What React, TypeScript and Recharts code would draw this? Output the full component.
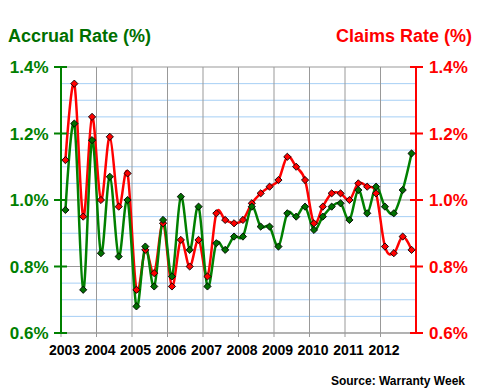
import React from 'react';
import { LineChart, Line, XAxis, YAxis, CartesianGrid } from 'recharts';

const quarters: number[] = Array.from({ length: 40 }, (_, i) => i);
const yearLabels = ['2003', '2004', '2005', '2006', '2007', '2008', '2009', '2010', '2011', '2012'];
const yearBounds = [-0.5, 3.5, 7.5, 11.5, 15.5, 19.5, 23.5, 27.5, 31.5, 35.5];
const gridVerticals = [3.5, 7.5, 11.5, 15.5, 19.5, 23.5, 27.5, 31.5, 35.5];
const rateTicks = [0.6, 0.8, 1.0, 1.2, 1.4];
const minorTicks = [0.65, 0.7, 0.75, 0.85, 0.9, 0.95, 1.05, 1.1, 1.15, 1.25, 1.3, 1.35];

const accrualRate = [
  0.97, 1.23, 0.73, 1.18, 0.84, 1.07, 0.83, 1.0, 0.68, 0.86,
  0.74, 0.94, 0.77, 1.01, 0.85, 0.98, 0.74, 0.87, 0.85, 0.89,
  0.89, 0.98, 0.92, 0.92, 0.86, 0.96, 0.95, 0.98, 0.91, 0.95,
  0.98, 0.99, 0.94, 1.03, 0.96, 1.04, 0.98, 0.96, 1.03, 1.14,
];
const claimsRate = [
  1.12, 1.35, 0.95, 1.25, 1.0, 1.19, 0.98, 1.08, 0.73, 0.85,
  0.78, 0.93, 0.74, 0.88, 0.8, 0.88, 0.77, 0.96, 0.94, 0.93,
  0.94, 0.99, 1.02, 1.04, 1.06, 1.13, 1.1, 1.06, 0.93, 0.98,
  1.02, 1.02, 1.0, 1.05, 1.04, 1.02, 0.86, 0.84, 0.89, 0.85,
];

const data = quarters.map((q, i) => ({ q, accrual: accrualRate[i], claims: claimsRate[i] }));

const FONT = "Arial, 'Liberation Sans', sans-serif";
const GREEN = '#008000';
const RED = '#FF0000';
const GREY = '#999999';
const BLUE = '#A6CFF5';

// Catmull-Rom style cardinal curve (like Excel's smoothed line)
function cardPoint(that: any, x: number, y: number) {
  that._context.bezierCurveTo(
    that._x1 + that._k * (that._x2 - that._x0),
    that._y1 + that._k * (that._y2 - that._y0),
    that._x2 + that._k * (that._x1 - x),
    that._y2 + that._k * (that._y1 - y),
    that._x2,
    that._y2
  );
}
class Cardinal {
  _context: any; _k: number; _line: any; _point: any;
  _x0: any; _x1: any; _x2: any; _y0: any; _y1: any; _y2: any;
  constructor(context: any, tension: number) {
    this._context = context;
    this._k = (1 - tension) / 6;
  }
  areaStart() { this._line = 0; }
  areaEnd() { this._line = NaN; }
  lineStart() {
    this._x0 = this._x1 = this._x2 = this._y0 = this._y1 = this._y2 = NaN;
    this._point = 0;
  }
  lineEnd() {
    switch (this._point) {
      case 2: this._context.lineTo(this._x2, this._y2); break;
      case 3: cardPoint(this, this._x1, this._y1); break;
    }
    if (this._line || (this._line !== 0 && this._point === 1)) this._context.closePath();
    this._line = 1 - this._line;
  }
  point(x: number, y: number) {
    x = +x; y = +y;
    switch (this._point) {
      case 0: this._point = 1; this._line ? this._context.lineTo(x, y) : this._context.moveTo(x, y); break;
      case 1: this._point = 2; this._x1 = x; this._y1 = y; break;
      case 2: this._point = 3; cardPoint(this, x, y); break;
      default: cardPoint(this, x, y); break;
    }
    this._x0 = this._x1; this._x1 = this._x2; this._x2 = x;
    this._y0 = this._y1; this._y1 = this._y2; this._y2 = y;
  }
}
const smooth: any = (context: any) => new Cardinal(context, 0);

const makeDot = (fill: string) => (props: any) => {
  const { cx, cy, index } = props;
  if (cx == null || cy == null) return <g key={`e${index}`} />;
  const r = 3.6;
  return (
    <path
      key={`d${fill}${index}`}
      d={`M${cx},${cy - r}L${cx + r},${cy}L${cx},${cy + r}L${cx - r},${cy}Z`}
      fill={fill}
      stroke="#000"
      strokeWidth={0.9}
    />
  );
};

const LeftTick = (props: any) => {
  const { x, y, payload } = props;
  return (
    <g>
      <line x1={x - 7} x2={x + 6} y1={y} y2={y} stroke={GREEN} strokeWidth={2} />
      <text x={x - 12.5} y={y + 6} textAnchor="end" fontFamily={FONT} fontWeight="bold" fontSize={17} fill={GREEN}>
        {`${payload.value.toFixed(1)}%`}
      </text>
    </g>
  );
};

const RightTick = (props: any) => {
  const { x, y, payload } = props;
  return (
    <g>
      <line x1={x - 6} x2={x + 7} y1={y} y2={y} stroke={RED} strokeWidth={2} />
      <text x={x + 13} y={y + 6} textAnchor="start" fontFamily={FONT} fontWeight="bold" fontSize={17} fill={RED}>
        {`${payload.value.toFixed(1)}%`}
      </text>
    </g>
  );
};

const BottomTick = (props: any) => {
  const { x, y, index } = props;
  return (
    <g>
      <line x1={x} x2={x} y1={y} y2={y + 4} stroke={GREY} strokeWidth={1} />
      <text x={x + 3.5} y={y + 22} textAnchor="middle" fontFamily={FONT} fontWeight="bold" fontSize={14} fill="#000">
        {yearLabels[index]}
      </text>
    </g>
  );
};

export default function App() {
  return (
    <div style={{ position: 'fixed', left: 0, top: 0, width: 480, height: 390, background: '#fff' }}>
      <LineChart
        width={480}
        height={390}
        data={data}
        margin={{ top: 67, right: 63, bottom: 56, left: 60 }}
      >
        <CartesianGrid yAxisId="l" vertical={false} horizontalValues={minorTicks} stroke={BLUE} strokeWidth={1} />
        <CartesianGrid yAxisId="l" horizontalValues={rateTicks} verticalValues={gridVerticals} stroke={GREY} strokeWidth={1} />
        <XAxis
          dataKey="q"
          type="number"
          domain={[-0.5, 39.5]}
          ticks={yearBounds}
          interval={0}
          height={1}
          tickSize={0}
          tickMargin={0}
          axisLine={{ stroke: GREY, strokeWidth: 1 }}
          tickLine={false}
          tick={<BottomTick />}
        />
        <YAxis
          yAxisId="l"
          orientation="left"
          domain={[0.6, 1.4]}
          ticks={rateTicks}
          interval={0}
          width={1}
          tickSize={0}
          tickMargin={0}
          axisLine={{ stroke: GREEN, strokeWidth: 2 }}
          tickLine={false}
          tick={<LeftTick />}
        />
        <YAxis
          yAxisId="r"
          orientation="right"
          domain={[0.6, 1.4]}
          ticks={rateTicks}
          interval={0}
          width={1}
          tickSize={0}
          tickMargin={0}
          axisLine={{ stroke: RED, strokeWidth: 2 }}
          tickLine={false}
          tick={<RightTick />}
        />
        <Line
          yAxisId="r"
          dataKey="claims"
          type={smooth}
          stroke={RED}
          strokeWidth={2.5}
          dot={makeDot(RED)}
          activeDot={false}
          isAnimationActive={false}
        />
        <Line
          yAxisId="l"
          dataKey="accrual"
          type={smooth}
          stroke={GREEN}
          strokeWidth={2.5}
          dot={makeDot('#007000')}
          activeDot={false}
          isAnimationActive={false}
        />
      </LineChart>
      <svg width={480} height={390} style={{ position: 'absolute', left: 0, top: 0, pointerEvents: 'none' }}>
        <text x={8} y={42} fontFamily={FONT} fontWeight="bold" fontSize={18} fill="#006F00">Accrual Rate (%)</text>
        <text x={472} y={42} textAnchor="end" fontFamily={FONT} fontWeight="bold" fontSize={18} fill={RED}>Claims Rate (%)</text>
        <text x={465} y={385} textAnchor="end" fontFamily={FONT} fontWeight="bold" fontSize={12} fill="#000">Source: Warranty Week</text>
      </svg>
    </div>
  );
}
